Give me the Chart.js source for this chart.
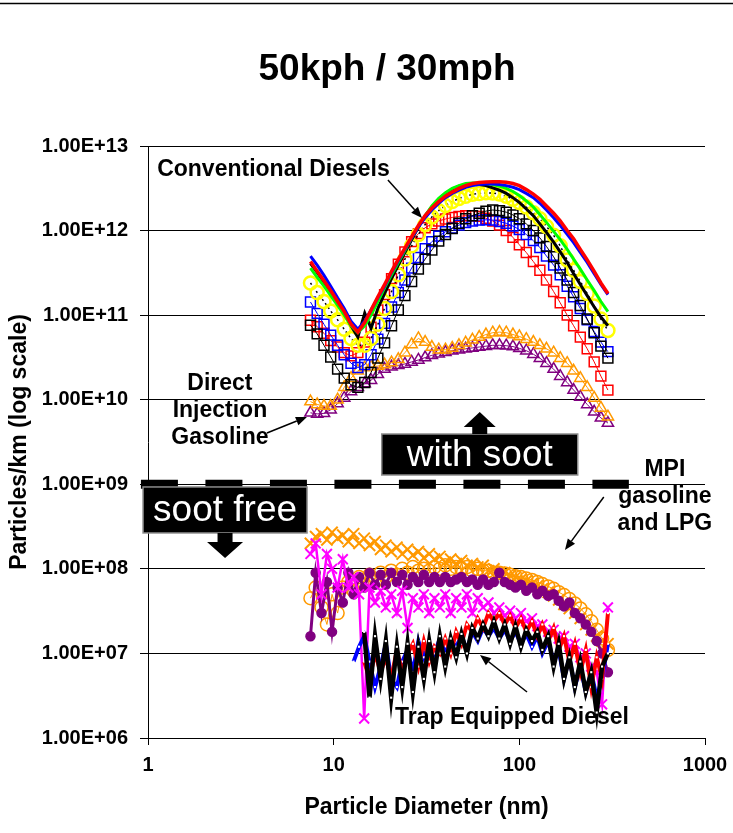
<!DOCTYPE html>
<html>
<head>
<meta charset="utf-8">
<script src="https://cdn.jsdelivr.net/npm/chart.js@4.4.0/dist/chart.umd.min.js"></script>
<style>
  html, body { margin: 0; padding: 0; background: #fff; }
  #wrap { width: 733px; height: 833px; position: relative; }
</style>
</head>
<body>
<div id="wrap"><canvas id="chart"></canvas></div>
<script>
// Chart text
const chartTitle = "50kph / 30mph";
const xTitle = "Particle Diameter (nm)";
const yTitle = "Particles/km (log scale)";

// Axis ticks
const xTicks = [1, 10, 100, 1000];
const xTickLabels = ["1", "10", "100", "1000"];
const yTicks = [1e6, 1e7, 1e8, 1e9, 1e10, 1e11, 1e12, 1e13];
const yTickLabels = ["1.00E+06", "1.00E+07", "1.00E+08", "1.00E+09", "1.00E+10", "1.00E+11", "1.00E+12", "1.00E+13"];

// Particle sizes (nm) for the soot-carrying vehicles
const sizesUpper = [7.5, 8.15, 8.87, 9.64, 10.5, 11.4, 12.4, 13.5, 14.7, 15.9, 17.3, 18.8, 20.5, 22.3, 24.2, 26.3, 28.6, 31.1, 33.8, 36.8, 40, 43.5, 47.3, 51.4, 55.9, 60.8, 66.1, 71.9, 78.2, 85, 92.4, 100, 109, 119, 129, 140, 153, 166, 181, 196, 213, 232, 253, 275, 300];

// Conventional diesels
const dieselRedLine = [4.3e11, 3.3e11, 2.55e11, 1.95e11, 1.45e11, 1.1e11, 7.8e10, 6.3e10, 8.2e10, 1.15e11, 1.65e11, 2.3e11, 3.3e11, 4.6e11, 6.2e11, 8.5e11, 1.15e12, 1.5e12, 1.85e12, 2.2e12, 2.55e12, 2.85e12, 3.15e12, 3.4e12, 3.6e12, 3.7e12, 3.75e12, 3.78e12, 3.78e12, 3.72e12, 3.6e12, 3.4e12, 3.05e12, 2.7e12, 2.35e12, 1.95e12, 1.6e12, 1.3e12, 1.0e12, 8.0e11, 6.0e11, 4.5e11, 3.3e11, 2.4e11, 1.8e11];
const dieselBlueLine = [5.0e11, 3.9e11, 2.95e11, 2.2e11, 1.6e11, 1.2e11, 8.5e10, 6.8e10, 8.5e10, 1.15e11, 1.6e11, 2.2e11, 3.2e11, 4.4e11, 6.0e11, 8.2e11, 1.1e12, 1.42e12, 1.75e12, 2.1e12, 2.45e12, 2.75e12, 3.0e12, 3.25e12, 3.4e12, 3.5e12, 3.55e12, 3.55e12, 3.5e12, 3.4e12, 3.25e12, 3.05e12, 2.75e12, 2.45e12, 2.1e12, 1.75e12, 1.42e12, 1.15e12, 9.0e11, 7.2e11, 5.5e11, 4.2e11, 3.1e11, 2.3e11, 1.75e11];
const dieselGreenLine = [3.6e11, 2.8e11, 2.2e11, 1.7e11, 1.3e11, 1.0e11, 7.5e10, 6.2e10, 7.5e10, 1.0e11, 1.45e11, 2.1e11, 3.0e11, 4.2e11, 5.8e11, 8.2e11, 1.12e12, 1.5e12, 1.95e12, 2.4e12, 2.8e12, 3.15e12, 3.4e12, 3.6e12, 3.65e12, 3.65e12, 3.6e12, 3.5e12, 3.35e12, 3.15e12, 2.9e12, 2.6e12, 2.25e12, 1.9e12, 1.55e12, 1.25e12, 9.8e11, 7.8e11, 6.0e11, 4.6e11, 3.5e11, 2.6e11, 1.95e11, 1.45e11, 1.1e11];
const dieselBlackLine = [4.1e11, 3.2e11, 2.45e11, 1.85e11, 1.4e11, 1.05e11, 7.5e10, 5.5e10, 1.06e11, 7.0e10, 1.2e11, 1.8e11, 2.7e11, 3.9e11, 5.5e11, 7.8e11, 1.1e12, 1.48e12, 1.9e12, 2.35e12, 2.75e12, 3.1e12, 3.35e12, 3.5e12, 3.55e12, 3.5e12, 3.4e12, 3.2e12, 3.0e12, 2.75e12, 2.45e12, 2.15e12, 1.8e12, 1.5e12, 1.2e12, 9.5e11, 7.3e11, 5.6e11, 4.2e11, 3.1e11, 2.3e11, 1.7e11, 1.25e11, 9.5e10, 7.5e10];
const dieselYellow = [2.4e11, 1.85e11, 1.45e11, 1.12e11, 8.8e10, 6.8e10, 5.3e10, 4.4e10, 4.4e10, 5.3e10, 7.8e10, 1.2e11, 1.9e11, 3.0e11, 4.6e11, 6.6e11, 9.0e11, 1.18e12, 1.45e12, 1.72e12, 1.98e12, 2.2e12, 2.4e12, 2.55e12, 2.68e12, 2.75e12, 2.8e12, 2.78e12, 2.7e12, 2.55e12, 2.35e12, 2.15e12, 1.9e12, 1.62e12, 1.38e12, 1.12e12, 8.8e11, 6.6e11, 4.5e11, 3.4e11, 2.5e11, 1.8e11, 1.28e11, 9.0e10, 6.6e10];
const dieselRedSq = [8.7e10, 7.3e10, 6.1e10, 5.0e10, 4.2e10, 3.6e10, 3.3e10, 3.6e10, 4.8e10, 7.2e10, 1.15e11, 1.75e11, 2.7e11, 4.0e11, 5.6e11, 7.4e11, 9.2e11, 1.08e12, 1.2e12, 1.3e12, 1.37e12, 1.43e12, 1.47e12, 1.5e12, 1.5e12, 1.47e12, 1.4e12, 1.3e12, 1.16e12, 1.0e12, 8.3e11, 6.8e11, 5.5e11, 4.3e11, 3.4e11, 2.6e11, 1.9e11, 1.4e11, 1.0e11, 7.5e10, 5.5e10, 4.0e10, 2.8e10, 1.9e10, 1.3e10];
const dieselBlueSq = [1.43e11, 1.05e11, 7.8e10, 5.8e10, 4.4e10, 3.4e10, 2.7e10, 2.4e10, 2.6e10, 3.4e10, 5.2e10, 8.0e10, 1.25e11, 1.85e11, 2.6e11, 3.6e11, 4.8e11, 6.1e11, 7.4e11, 8.6e11, 9.7e11, 1.07e12, 1.16e12, 1.24e12, 1.3e12, 1.33e12, 1.34e12, 1.33e12, 1.28e12, 1.22e12, 1.13e12, 1.03e12, 9.0e11, 7.6e11, 6.3e11, 5.0e11, 3.9e11, 3.0e11, 2.2e11, 1.65e11, 1.2e11, 8.8e10, 6.4e10, 4.8e10, 3.7e10];
const dieselBlackSq = [7.6e10, 6.0e10, 4.4e10, 3.2e10, 2.3e10, 1.8e10, 1.5e10, 1.4e10, 1.6e10, 2.1e10, 3.1e10, 4.7e10, 7.5e10, 1.15e11, 1.7e11, 2.5e11, 3.5e11, 4.6e11, 5.9e11, 7.5e11, 9.0e11, 1.06e12, 1.22e12, 1.38e12, 1.5e12, 1.6e12, 1.7e12, 1.75e12, 1.72e12, 1.65e12, 1.53e12, 1.38e12, 1.2e12, 1.0e12, 8.2e11, 6.5e11, 4.9e11, 3.6e11, 2.6e11, 1.85e11, 1.3e11, 9.0e10, 6.2e10, 4.3e10, 3.1e10];

// Direct injection gasoline
const diOrange = [9.5e9, 8.8e9, 8.4e9, 8.4e9, 1.0e10, 1.4e10, 1.8e10, 2.2e10, 2.4e10, 2.45e10, 2.5e10, 2.6e10, 2.75e10, 3.0e10, 3.6e10, 4.5e10, 5.3e10, 4.8e10, 4.2e10, 3.9e10, 3.9e10, 4.1e10, 4.4e10, 4.7e10, 5.1e10, 5.5e10, 5.9e10, 6.2e10, 6.3e10, 6.2e10, 5.9e10, 5.6e10, 5.2e10, 4.8e10, 4.4e10, 4.0e10, 3.6e10, 3.1e10, 2.7e10, 2.2e10, 1.8e10, 1.4e10, 1.05e10, 8.0e9, 6.3e9];
const diPurple = [7.0e9, 6.8e9, 6.9e9, 7.6e9, 9.0e9, 1.05e10, 1.25e10, 1.4e10, 1.55e10, 1.7e10, 2.0e10, 2.3e10, 2.45e10, 2.55e10, 2.65e10, 2.8e10, 2.95e10, 3.15e10, 3.35e10, 3.5e10, 3.65e10, 3.8e10, 3.9e10, 4.0e10, 4.1e10, 4.2e10, 4.3e10, 4.4e10, 4.4e10, 4.35e10, 4.25e10, 4.05e10, 3.8e10, 3.45e10, 3.1e10, 2.7e10, 2.3e10, 1.9e10, 1.6e10, 1.3e10, 1.08e10, 8.8e9, 7.2e9, 6.1e9, 5.3e9];

// Particle sizes (nm) for the soot-free vehicles
const sizesLower = [7.5, 8.0, 8.6, 9.2, 9.8, 10.5, 11.2, 12.0, 12.8, 13.7, 14.6, 15.6, 16.7, 17.9, 19.1, 20.4, 21.9, 23.4, 25.0, 26.7, 28.6, 30.6, 32.7, 34.9, 37.3, 39.9, 42.7, 45.7, 48.8, 52.2, 55.8, 59.7, 63.8, 68.2, 72.9, 78.0, 83.4, 89.2, 95.3, 102, 109, 117, 125, 133, 143, 153, 163, 174, 186, 199, 213, 228, 244, 261, 279, 300];

// MPI gasoline and LPG
const mpiOrangeX = [2.0e8, 2.4e8, 2.6e8, 2.2e8, 2.7e8, 2.3e8, 2.5e8, 2.1e8, 2.6e8, 2.0e8, 2.3e8, 1.9e8, 2.1e8, 1.7e8, 1.9e8, 1.6e8, 1.8e8, 1.5e8, 1.7e8, 1.45e8, 1.6e8, 1.35e8, 1.5e8, 1.3e8, 1.4e8, 1.2e8, 1.3e8, 1.15e8, 1.25e8, 1.1e8, 1.15e8, 1.05e8, 1.1e8, 9.5e7, 1.0e8, 9.0e7, 9.0e7, 8.3e7, 8.0e7, 7.5e7, 7.2e7, 6.7e7, 6.3e7, 5.8e7, 5.3e7, 4.8e7, 4.3e7, 3.8e7, 3.4e7, 3.0e7, 2.6e7, 2.2e7, 1.9e7, 1.6e7, 1.4e7, 1.3e7];
const mpiOrangeCircle = [4.5e7, 6.0e7, 3.5e7, 2.2e7, 5.0e7, 3.0e7, 6.0e7, 7.0e7, 5.5e7, 8.0e7, 6.5e7, 8.5e7, 7.0e7, 9.0e7, 8.0e7, 9.5e7, 8.5e7, 1.0e8, 9.0e7, 1.05e8, 9.5e7, 1.0e8, 9.5e7, 1.05e8, 1.0e8, 1.1e8, 1.0e8, 1.05e8, 1.0e8, 1.05e8, 9.5e7, 1.0e8, 9.5e7, 9.5e7, 9.0e7, 9.0e7, 8.8e7, 8.5e7, 8.2e7, 8.0e7, 7.7e7, 7.4e7, 7.0e7, 6.6e7, 6.2e7, 5.8e7, 5.3e7, 4.9e7, 4.4e7, 3.9e7, 3.4e7, 2.9e7, 2.4e7, 1.9e7, 1.5e7, 1.1e7];
const mpiPurple = [1.6e7, 9.0e7, 3.0e7, 7.0e7, 1.8e7, 6.0e7, 4.0e7, 9.0e7, 5.0e7, 8.0e7, 6.0e7, 9.0e7, 6.5e7, 8.5e7, 6.5e7, 9.0e7, 7.0e7, 8.5e7, 6.5e7, 8.0e7, 7.0e7, 8.5e7, 7.0e7, 8.0e7, 7.0e7, 8.0e7, 7.0e7, 7.5e7, 8.0e7, 7.0e7, 7.5e7, 6.5e7, 7.5e7, 6.5e7, 7.0e7, 9.0e7, 7.0e7, 6.5e7, 6.0e7, 6.5e7, 5.5e7, 6.0e7, 5.0e7, 5.5e7, 4.8e7, 5.0e7, 4.2e7, 3.6e7, 4.0e7, 3.0e7, 2.6e7, 2.2e7, 1.8e7, 1.4e7, 1.0e7, 6.0e6];
const mpiMagenta = [1.5e8, 2.0e8, 5.0e7, 1.5e8, 1.0e8, 6.0e7, 1.3e8, 6.0e7, 8.0e7, 5.0e7, 1.7e6, 6.0e7, 4.0e7, 5.5e7, 3.5e7, 5.0e7, 3.0e7, 5.5e7, 2.0e7, 4.5e7, 3.5e7, 5.0e7, 3.0e7, 4.5e7, 3.5e7, 5.0e7, 3.0e7, 4.5e7, 3.5e7, 5.0e7, 3.0e7, 4.5e7, 3.5e7, 4.0e7, 3.0e7, 3.5e7, 2.8e7, 3.2e7, 2.6e7, 3.0e7, 2.4e7, 2.6e7, 2.1e7, 2.2e7, 1.8e7, 1.9e7, 1.5e7, 1.6e7, 1.2e7, 1.3e7, 9.0e6, 1.0e7, 7.0e6, 6.0e6, 2.5e6, 3.5e7];

// Trap equipped diesels (null = no reading)
const trapBlack = [null, null, null, null, null, null, null, null, null, null, 1.8e7, 3.0e6, 1.6e7, 5.0e6, 1.4e7, 3.0e6, 1.2e7, 4.0e6, 1.3e7, 3.5e6, 1.2e7, 5.0e6, 1.4e7, 6.0e6, 1.6e7, 7.0e6, 1.5e7, 9.0e6, 1.7e7, 1.0e7, 2.0e7, 1.5e7, 2.2e7, 1.6e7, 2.4e7, 1.5e7, 2.2e7, 1.3e7, 2.1e7, 1.2e7, 1.9e7, 1.4e7, 1.8e7, 1.1e7, 1.6e7, 7.0e6, 1.3e7, 5.0e6, 9.0e6, 4.0e6, 8.0e6, 3.5e6, 6.0e6, 2.0e6, 7.0e6, 1.0e7];
const trapRed = [null, null, null, null, null, null, null, null, null, null, 8.0e6, 5.0e6, 1.0e7, 6.0e6, 9.0e6, 5.0e6, 1.1e7, 6.0e6, 1.0e7, 1.3e7, 7.0e6, 1.4e7, 8.0e6, 1.2e7, 1.0e7, 1.5e7, 1.0e7, 1.8e7, 1.3e7, 2.2e7, 1.8e7, 2.6e7, 2.0e7, 3.0e7, 2.4e7, 3.0e7, 2.2e7, 2.8e7, 2.0e7, 2.6e7, 1.8e7, 2.4e7, 1.6e7, 2.2e7, 1.4e7, 2.0e7, 1.1e7, 1.6e7, 8.0e6, 1.3e7, 6.0e6, 1.1e7, 4.0e6, 9.0e6, 5.0e6, 3.0e7];
const trapBlue = [null, null, null, null, null, null, null, null, 8.0e6, 1.2e7, 1.6e7, 8.0e6, 4.0e6, 7.0e6, 1.3e7, 5.0e6, 4.0e6, 8.0e6, 1.1e7, 6.0e6, 1.4e7, 9.0e6, 1.3e7, 1.0e7, 1.5e7, 1.0e7, 1.4e7, 1.2e7, 1.6e7, 1.1e7, 1.8e7, 1.4e7, 2.0e7, 1.6e7, 2.0e7, 1.5e7, 1.9e7, 1.4e7, 1.8e7, 1.3e7, 1.7e7, 1.2e7, 1.6e7, 1.0e7, 1.4e7, 8.0e6, 1.1e7, 5.0e6, 9.0e6, 4.0e6, 7.0e6, 3.5e6, 6.0e6, 3.0e6, 5.0e6, 1.3e7];

// Soot / soot-free threshold line
const thresholdX = [0.916, 389];
const thresholdY = 1e9;

// Annotation placement (data coordinates)
const noteLabels = [
    { lines: ["Conventional Diesels"], x: 1.12, y: 5.2e12, align: "left" },
    { lines: ["Direct", "Injection", "Gasoline"], x: 2.44, y: 1.53e10, align: "center" },
    { lines: ["MPI", "gasoline", "and LPG"], x: 608, y: 1.47e9, align: "center" },
    { lines: ["Trap Equipped Diesel"], x: 21.4, y: 1.72e6, align: "left" }
];
const noteArrows = [
    { from: [19.6, 3.96e12], to: [29.9, 1.41e12] },
    { from: [4.37, 4.04e9], to: [7.18, 6.25e9] },
    { from: [285, 7.08e8], to: [176, 1.67e8] },
    { from: [110, 3.5e6], to: [61.4, 9.6e6] }
];
const sootBoxes = [
    { text: "with soot", x: 61.2, y: 2.25e9, w: 196, h: 41, arrow: "up" },
    { text: "soot free", x: 2.60, y: 4.97e8, w: 164, h: 46, arrow: "down" }
];

const FONT = '"Liberation Sans", Arial, sans-serif';

function points(sizes, values) {
    const out = [];
    sizes.forEach((s, i) => {
        if (values[i] !== null) out.push({ x: s, y: values[i] });
    });
    return out;
}

function lineSeries(label, sizes, values, color, width) {
    return {
        label: label,
        data: points(sizes, values),
        borderColor: color,
        borderWidth: width,
        pointRadius: 0,
        tension: 0
    };
}

function markerSeries(label, sizes, values, color, style, radius, opts) {
    return Object.assign({
        label: label,
        data: points(sizes, values),
        borderColor: color,
        borderWidth: 1,
        pointStyle: style,
        pointRadius: radius,
        pointBorderColor: color,
        pointBorderWidth: 1.5,
        pointBackgroundColor: "rgba(0,0,0,0)",
        tension: 0
    }, opts || {});
}

const trapPoints = { pointRadius: 1.5, pointStyle: "rect", pointBackgroundColor: "#fff", pointBorderColor: "#fff", pointBorderWidth: 0 };

const datasets = [
    {
        label: "threshold",
        data: thresholdX.map(x => ({ x: x, y: thresholdY })),
        borderColor: "#000",
        borderWidth: 9,
        borderDash: [37, 27.5],
        borderCapStyle: "butt",
        pointRadius: 0,
        clip: false
    },
    // trap diesels
    Object.assign(lineSeries("Trap black", sizesLower, trapBlack, "#000", 4.5), trapPoints),
    Object.assign(lineSeries("Trap red", sizesLower, trapRed, "#ff0000", 4), trapPoints),
    Object.assign(lineSeries("Trap blue", sizesLower, trapBlue, "#0000ff", 4), trapPoints),
    // MPI gasoline / LPG
    markerSeries("MPI magenta", sizesLower, mpiMagenta, "#ff00ff", "crossRot", 7, { borderWidth: 2.5, pointBorderWidth: 2 }),
    markerSeries("MPI purple", sizesLower, mpiPurple, "#800080", "circle", 4.5, { borderWidth: 3, pointBackgroundColor: "#800080" }),
    markerSeries("MPI orange circles", sizesLower, mpiOrangeCircle, "#ff9900", "circle", 6.5, { borderWidth: 1 }),
    markerSeries("MPI orange crosses", sizesLower, mpiOrangeX, "#ff9900", "crossRot", 8, { borderWidth: 1.5, pointBorderWidth: 2 }),
    // conventional diesels
    lineSeries("Diesel red", sizesUpper, dieselRedLine, "#ff0000", 3.5),
    lineSeries("Diesel blue", sizesUpper, dieselBlueLine, "#0000ff", 3),
    lineSeries("Diesel green", sizesUpper, dieselGreenLine, "#00ff00", 3),
    lineSeries("Diesel black", sizesUpper, dieselBlackLine, "#000", 3),
    markerSeries("Diesel yellow", sizesUpper, dieselYellow, "#ffff00", "circle", 6.5, { borderColor: "#000", borderWidth: 1.5, borderDash: [2, 3], pointBorderWidth: 2.5 }),
    markerSeries("Diesel black sq", sizesUpper, dieselBlackSq, "#000", "rect", 7),
    markerSeries("Diesel blue sq", sizesUpper, dieselBlueSq, "#0000ff", "rect", 7),
    markerSeries("Diesel red sq", sizesUpper, dieselRedSq, "#ff0000", "rect", 7),
    // direct injection gasoline
    markerSeries("DI orange", sizesUpper, diOrange, "#ff9900", "triangle", 6.5),
    markerSeries("DI purple", sizesUpper, diPurple, "#800080", "triangle", 6.5)
];

function drawArrowLine(ctx, x1, y1, x2, y2) {
    const ang = Math.atan2(y2 - y1, x2 - x1);
    const hl = 11, hw = 4.5;
    const bx = x2 - hl * Math.cos(ang), by = y2 - hl * Math.sin(ang);
    ctx.beginPath();
    ctx.moveTo(x1, y1);
    ctx.lineTo(bx, by);
    ctx.lineWidth = 1.5;
    ctx.strokeStyle = "#000";
    ctx.stroke();
    ctx.beginPath();
    ctx.moveTo(x2, y2);
    ctx.lineTo(bx + hw * Math.sin(ang), by - hw * Math.cos(ang));
    ctx.lineTo(bx - hw * Math.sin(ang), by + hw * Math.cos(ang));
    ctx.closePath();
    ctx.fillStyle = "#000";
    ctx.fill();
}

function drawBlockArrow(ctx, cx, y0, dir) {
    // dir: -1 up, +1 down
    const stemW = 15, stemH = dir < 0 ? 7 : 9, headW = dir < 0 ? 32 : 36, headH = dir < 0 ? 15 : 16;
    ctx.beginPath();
    ctx.moveTo(cx - stemW / 2, y0);
    ctx.lineTo(cx - stemW / 2, y0 + dir * stemH);
    ctx.lineTo(cx - headW / 2, y0 + dir * stemH);
    ctx.lineTo(cx, y0 + dir * (stemH + headH));
    ctx.lineTo(cx + headW / 2, y0 + dir * stemH);
    ctx.lineTo(cx + stemW / 2, y0 + dir * stemH);
    ctx.lineTo(cx + stemW / 2, y0);
    ctx.closePath();
    ctx.fillStyle = "#000";
    ctx.fill();
}

const overlayPlugin = {
    id: "overlay",
    afterDraw(chart) {
        const ctx = chart.ctx;
        const px = v => chart.scales.x.getPixelForValue(v);
        const py = v => chart.scales.y.getPixelForValue(v);
        ctx.save();

        // rule along the top of the slide
        ctx.beginPath();
        ctx.moveTo(0, 3.5);
        ctx.lineTo(chart.width, 3.5);
        ctx.lineWidth = 1.5;
        ctx.strokeStyle = "#000";
        ctx.stroke();

        // title
        ctx.fillStyle = "#000";
        ctx.font = "bold 37px " + FONT;
        ctx.textAlign = "center";
        ctx.textBaseline = "alphabetic";
        ctx.fillText(chartTitle, 387, 80);

        // labels
        ctx.font = "bold 23px " + FONT;
        ctx.textBaseline = "middle";
        noteLabels.forEach(n => {
            ctx.textAlign = n.align;
            n.lines.forEach((line, i) => {
                ctx.fillText(line, px(n.x), py(n.y) + i * 27);
            });
        });

        noteArrows.forEach(a => {
            drawArrowLine(ctx, px(a.from[0]), py(a.from[1]), px(a.to[0]), py(a.to[1]));
        });

        // soot boxes
        sootBoxes.forEach(b => {
            const cx = px(b.x), cy = py(b.y);
            const left = cx - b.w / 2, top = cy - b.h / 2;
            ctx.fillStyle = "#000";
            ctx.fillRect(left, top, b.w, b.h);
            ctx.lineWidth = 1.5;
            ctx.strokeStyle = "#8c8c8c";
            ctx.strokeRect(left, top, b.w, b.h);
            if (b.arrow === "up") drawBlockArrow(ctx, cx, top, -1);
            else drawBlockArrow(ctx, cx, top + b.h, 1);
            ctx.fillStyle = "#fff";
            ctx.font = "37px " + FONT;
            ctx.textAlign = "center";
            ctx.textBaseline = "middle";
            ctx.fillText(b.text, cx, cy + 1);
        });

        ctx.restore();
    }
};

new Chart(document.getElementById("chart"), {
    type: "line",
    data: { datasets: datasets },
    options: {
        responsive: true,
        maintainAspectRatio: false,
        animation: false,
        devicePixelRatio: 1,
        layout: { padding: { top: 146, right: 28, bottom: 0, left: 0 } },
        plugins: {
            legend: { display: false },
            tooltip: { enabled: false },
            title: { display: false }
        },
        scales: {
            x: {
                type: "logarithmic",
                min: 1,
                max: 1000,
                afterFit: s => { s.height = 95; s.paddingLeft = 0; s.paddingRight = 0; },
                afterBuildTicks: s => { s.ticks = xTicks.map(v => ({ value: v })); },
                grid: { drawOnChartArea: false, drawTicks: true, tickLength: 7, color: "#000", lineWidth: 1 },
                border: { color: "#000", width: 1 },
                ticks: {
                    autoSkip: false,
                    maxRotation: 0,
                    padding: 8,
                    color: "#000",
                    font: { family: FONT, size: 20, weight: "bold" },
                    callback: (v, i) => xTickLabels[i]
                },
                title: {
                    display: true,
                    text: xTitle,
                    color: "#000",
                    font: { family: FONT, size: 23, weight: "bold" },
                    padding: { top: 0, bottom: 12 }
                }
            },
            y: {
                type: "logarithmic",
                min: 1e6,
                max: 1e13,
                afterFit: s => { s.width = 148; },
                afterBuildTicks: s => { s.ticks = yTicks.map(v => ({ value: v })); },
                grid: { color: "#000", lineWidth: 1, tickLength: 8 },
                border: { color: "#000", width: 1 },
                ticks: {
                    autoSkip: false,
                    padding: 12,
                    color: "#000",
                    font: { family: FONT, size: 20, weight: "bold" },
                    callback: (v, i) => yTickLabels[i]
                },
                title: {
                    display: true,
                    text: yTitle,
                    color: "#000",
                    font: { family: FONT, size: 23, weight: "bold" },
                    padding: { top: 6, bottom: 0 }
                }
            }
        }
    },
    plugins: [overlayPlugin]
});
</script>
</body>
</html>
